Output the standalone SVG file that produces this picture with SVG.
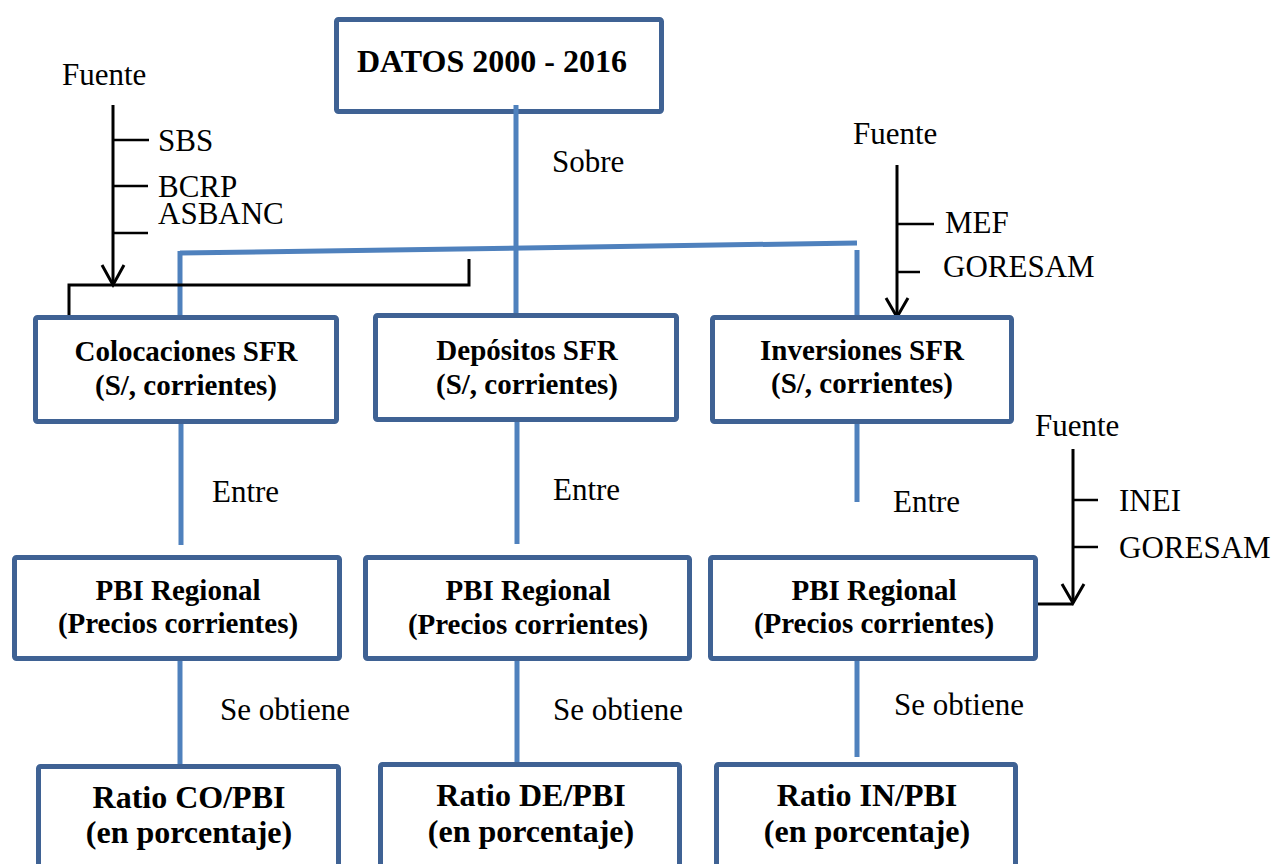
<svg xmlns="http://www.w3.org/2000/svg" width="1278" height="864" viewBox="0 0 1278 864">
  <style>
    .box { fill: #ffffff; stroke: #3f6294; stroke-width: 5; }
    .link { fill: none; stroke: #4f81bd; stroke-width: 5; }
    .src { fill: none; stroke: #000000; stroke-width: 3; }
    .tick { fill: none; stroke: #000000; stroke-width: 2.5; }
    text { fill: #000000; }
    .lbl { font-size: 31px; }
    .b29 { font-size: 29px; font-weight: bold; text-anchor: middle; }
    .b32 { font-size: 32px; font-weight: bold; text-anchor: middle; }
  </style>

  <!-- connectors -->
  <g id="connectors">
    <!-- trunk from DATOS and the branch bar -->
    <line class="link" x1="516" y1="105" x2="516" y2="314"/>
    <line class="link" x1="180" y1="253" x2="857" y2="243"/>
    <line class="link" x1="180" y1="251" x2="180" y2="318"/>
    <line class="link" x1="857" y1="250" x2="857" y2="316"/>
    <!-- SFR boxes to PBI boxes -->
    <line class="link" x1="181" y1="422" x2="181" y2="545"/>
    <line class="link" x1="517" y1="420" x2="517" y2="544"/>
    <line class="link" x1="857" y1="422" x2="857" y2="502"/>
    <!-- PBI boxes to ratio boxes -->
    <line class="link" x1="180" y1="657" x2="180" y2="765"/>
    <line class="link" x1="517" y1="657" x2="517" y2="762"/>
    <line class="link" x1="857" y1="657" x2="857" y2="757"/>

    <!-- source: SBS / BCRP / ASBANC -->
    <line class="src" x1="113" y1="105" x2="113" y2="285"/>
    <polyline class="src" points="102,265 113,285 124,265"/>
    <line class="tick" x1="113" y1="140" x2="149" y2="140"/>
    <line class="tick" x1="113" y1="186" x2="148" y2="186"/>
    <line class="tick" x1="113" y1="233" x2="148" y2="233"/>
    <polyline class="src" points="69,318 69,285 469,285 469,259"/>

    <!-- source: MEF / GORESAM -->
    <line class="src" x1="897" y1="165" x2="897" y2="317"/>
    <polyline class="src" points="886,298 897,317 908,298"/>
    <line class="tick" x1="897" y1="224" x2="934" y2="224"/>
    <line class="tick" x1="897" y1="272" x2="920" y2="272"/>

    <!-- source: INEI / GORESAM -->
    <line class="src" x1="1073" y1="449" x2="1073" y2="603"/>
    <polyline class="src" points="1062,584 1073,603 1084,584"/>
    <line class="tick" x1="1073" y1="500" x2="1098" y2="500"/>
    <line class="tick" x1="1073" y1="547" x2="1098" y2="547"/>
    <line class="src" x1="1037" y1="604" x2="1073" y2="604"/>
  </g>

  <g font-family="Liberation Serif, Tinos, Times New Roman, Times, Nimbus Roman, DejaVu Serif, serif">
  <!-- connector labels -->
  <g id="labels">
    <text class="lbl" x="62" y="85">Fuente</text>
    <text class="lbl" x="158" y="151">SBS</text>
    <text class="lbl" x="158" y="197">BCRP</text>
    <text class="lbl" x="158" y="224">ASBANC</text>
    <text class="lbl" x="552" y="172">Sobre</text>
    <text class="lbl" x="853" y="144">Fuente</text>
    <text class="lbl" x="945" y="233">MEF</text>
    <text class="lbl" x="943" y="277">GORESAM</text>
    <text class="lbl" x="1035" y="436">Fuente</text>
    <text class="lbl" x="1119" y="511">INEI</text>
    <text class="lbl" x="1119" y="558">GORESAM</text>
    <text class="lbl" x="212" y="502">Entre</text>
    <text class="lbl" x="553" y="500">Entre</text>
    <text class="lbl" x="893" y="512">Entre</text>
    <text class="lbl" x="220" y="720">Se obtiene</text>
    <text class="lbl" x="553" y="720">Se obtiene</text>
    <text class="lbl" x="894" y="715">Se obtiene</text>
  </g>

  <g id="datos">
    <rect class="box" x="336.5" y="19.5" width="325" height="92" rx="2"/>
    <line class="link" x1="516" y1="105" x2="516" y2="114"/>
    <text x="357" y="72" font-size="32" font-weight="bold">DATOS 2000 - 2016</text>
  </g>

  <g id="colocaciones">
    <rect class="box" x="35.5" y="317.5" width="301" height="104" rx="2"/>
    <text class="b29" x="186" y="361">Colocaciones SFR</text>
    <text class="b29" x="186" y="395">(S/, corrientes)</text>
  </g>

  <g id="depositos">
    <rect class="box" x="375.5" y="315.5" width="301" height="104" rx="2"/>
    <text class="b29" x="527" y="360">Depósitos SFR</text>
    <text class="b29" x="527" y="394">(S/, corrientes)</text>
  </g>

  <g id="inversiones">
    <rect class="box" x="712.5" y="317.5" width="299" height="104" rx="2"/>
    <text class="b29" x="862" y="360">Inversiones SFR</text>
    <text class="b29" x="862" y="393">(S/, corrientes)</text>
  </g>

  <g id="pbi-1">
    <rect class="box" x="14.5" y="557.5" width="325" height="101" rx="2"/>
    <text class="b29" x="178" y="600">PBI Regional</text>
    <text class="b29" x="178" y="633">(Precios corrientes)</text>
  </g>

  <g id="pbi-2">
    <rect class="box" x="365.5" y="557.5" width="324" height="101" rx="2"/>
    <text class="b29" x="528" y="600">PBI Regional</text>
    <text class="b29" x="528" y="634">(Precios corrientes)</text>
  </g>

  <g id="pbi-3">
    <rect class="box" x="710.5" y="557.5" width="325" height="101" rx="2"/>
    <text class="b29" x="874" y="600">PBI Regional</text>
    <text class="b29" x="874" y="633">(Precios corrientes)</text>
  </g>

  <g id="ratio-co">
    <rect class="box" x="38.5" y="766.5" width="300" height="120" rx="2"/>
    <text class="b32" x="189" y="808">Ratio CO/PBI</text>
    <text class="b32" x="189" y="843">(en porcentaje)</text>
  </g>

  <g id="ratio-de">
    <rect class="box" x="380.5" y="764.5" width="299" height="120" rx="2"/>
    <text class="b32" x="531" y="806">Ratio DE/PBI</text>
    <text class="b32" x="531" y="842">(en porcentaje)</text>
  </g>

  <g id="ratio-in">
    <rect class="box" x="716.5" y="764.5" width="299" height="120" rx="2"/>
    <text class="b32" x="867" y="806">Ratio IN/PBI</text>
    <text class="b32" x="867" y="842">(en porcentaje)</text>
  </g>
  </g>
</svg>
